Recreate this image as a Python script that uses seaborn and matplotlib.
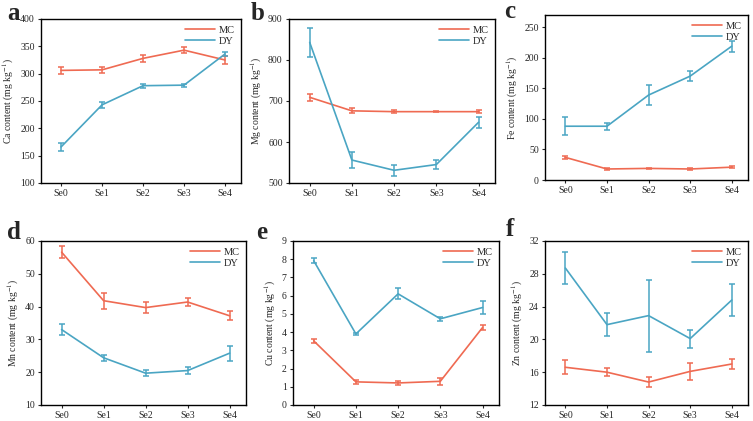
import numpy as np
import pandas as pd
import matplotlib
matplotlib.use("Agg")
import matplotlib.pyplot as plt
import seaborn as sns

treatments = ["Se0", "Se1", "Se2", "Se3", "Se4"]

ca_mc = [306, 307, 328, 343, 325]
ca_mc_err = [7, 6, 7, 5, 7]
ca_dy = [166, 243, 278, 279, 336]
ca_dy_err = [8, 5, 4, 3, 3]

mg_mc = [709, 676, 674, 674, 674]
mg_mc_err = [9, 6, 4, 1, 3]
mg_dy = [843, 556, 531, 545, 648]
mg_dy_err = [35, 19, 14, 10, 13]

fe_mc = [37, 18, 19, 18, 21]
fe_mc_err = [3, 1, 1, 1, 1.5]
fe_dy = [88, 88, 139, 170, 219]
fe_dy_err = [15, 6, 16, 8, 9]

mn_mc = [56.6, 41.8, 39.7, 41.4, 37.2]
mn_mc_err = [1.8, 2.4, 1.6, 1.3, 1.4]
mn_dy = [33.0, 24.4, 19.7, 20.5, 25.8]
mn_dy_err = [1.6, 0.9, 0.9, 1.2, 2.3]

cu_mc = [3.52, 1.27, 1.21, 1.30, 4.25]
cu_mc_err = [0.1, 0.1, 0.1, 0.18, 0.15]
cu_dy = [7.92, 3.90, 6.10, 4.73, 5.35]
cu_dy_err = [0.12, 0.05, 0.3, 0.1, 0.35]

zn_mc = [16.6, 16.0, 14.8, 16.1, 17.0]
zn_mc_err = [0.85, 0.5, 0.6, 1.0, 0.6]
zn_dy = [28.7, 21.8, 22.9, 20.1, 24.8]
zn_dy_err = [2.0, 1.4, 4.4, 1.1, 1.9]

panels = [
    ("a", "Ca", ca_mc, ca_mc_err, ca_dy, ca_dy_err, (100, 400), np.arange(100, 401, 50)),
    ("b", "Mg", mg_mc, mg_mc_err, mg_dy, mg_dy_err, (500, 900), np.arange(500, 901, 100)),
    ("c", "Fe", fe_mc, fe_mc_err, fe_dy, fe_dy_err, (0, 270), np.arange(0, 251, 50)),
    ("d", "Mn", mn_mc, mn_mc_err, mn_dy, mn_dy_err, (10, 60), np.arange(10, 61, 10)),
    ("e", "Cu", cu_mc, cu_mc_err, cu_dy, cu_dy_err, (0, 9), np.arange(0, 10, 1)),
    ("f", "Zn", zn_mc, zn_mc_err, zn_dy, zn_dy_err, (12, 32), np.arange(12, 33, 4)),
]

# axes boxes in pixels: left, top, right, bottom
boxes = [
    (41, 19, 241, 183), (289, 19, 495, 183), (545, 15, 748, 180),
    (41, 241, 246, 405), (293, 241, 499, 405), (545, 241, 748, 405),
]
# panel letter positions in pixels
letter_pos = [(14, 14), (258, 14), (510, 11), (14, 233), (262, 233), (510, 229)]

sns.set_style("ticks")
plt.rcParams["font.family"] = ["Liberation Serif", "DejaVu Serif"]
plt.rcParams["mathtext.fontset"] = "stix"

red = "#EF6A52"
blue = "#4AA5C3"
W, H = 753, 421
fig = plt.figure(figsize=(W / 100, H / 100), dpi=100)

for (lab, el, mc, mce, dy, dye, ylim, yticks), (l, t, r, b), (lx, ly) in zip(panels, boxes, letter_pos):
    ax = fig.add_axes([l / W, 1 - b / H, (r - l) / W, (b - t) / H])
    df = pd.DataFrame({
        "x": treatments * 2,
        "y": mc + dy,
        "group": ["MC"] * 5 + ["DY"] * 5,
    })
    sns.lineplot(data=df, x="x", y="y", hue="group", palette={"MC": red, "DY": blue},
                 lw=1.2, ax=ax, sort=False)
    xs = np.arange(5)
    ax.errorbar(xs, mc, yerr=mce, fmt="none", ecolor=red, elinewidth=1.1, capsize=2.5, capthick=1.1)
    ax.errorbar(xs, dy, yerr=dye, fmt="none", ecolor=blue, elinewidth=1.1, capsize=2.5, capthick=1.1)
    ax.set_xlim(-0.49, 4.39)
    ax.set_ylim(*ylim)
    ax.set_yticks(yticks)
    ax.set_xlabel("")
    ax.set_ylabel(el + r" content (mg kg$^{-1}$)", fontsize=7, labelpad=3)
    ax.tick_params(labelsize=7, length=2.5, width=0.8, pad=2)
    for s in ax.spines.values():
        s.set_linewidth(1.0)
        s.set_color("black")
    ax.legend(loc="upper right", frameon=False, fontsize=7.5, handlelength=2.8,
              handletextpad=0.4, borderaxespad=0.2, labelspacing=0.2)
    fig.text(lx / W, 1 - ly / H, lab, fontsize=18, fontweight="bold",
             ha="center", va="center")

fig.savefig("out.png", dpi=100)
